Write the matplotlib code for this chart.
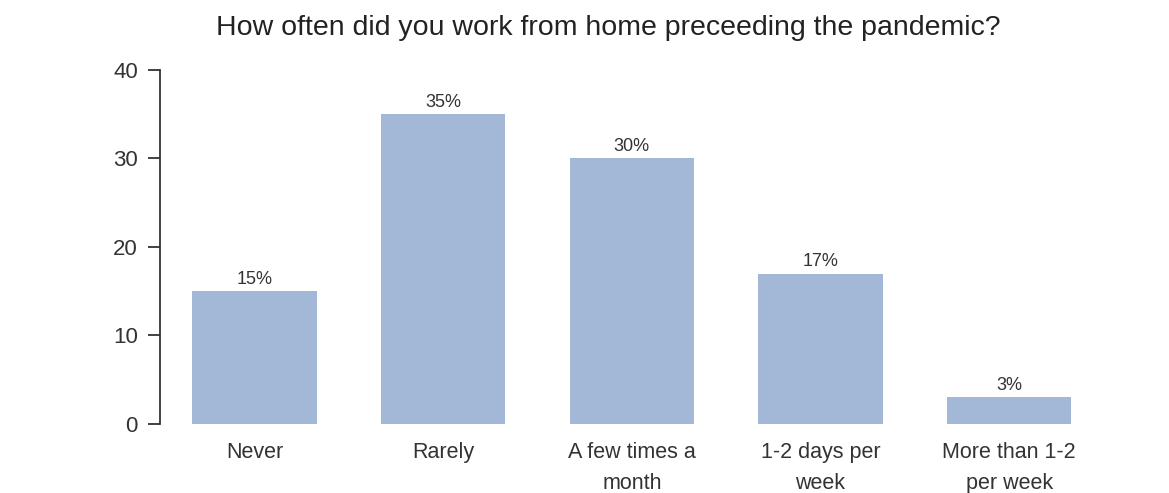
import matplotlib.pyplot as plt

categories = ["Never", "Rarely", "A few times a\nmonth", "1-2 days per\nweek", "More than 1-2\nper week"]
values = [15, 35, 30, 17, 3]
bar_labels = ["15%", "35%", "30%", "17%", "3%"]
yticks = [0, 10, 20, 30, 40]

plt.rcParams['font.family'] = ['Liberation Sans', 'DejaVu Sans']
text_color = '#333333'

fig = plt.figure(figsize=(11.69, 4.93), dpi=100)
ax = fig.add_axes([0.137, 0.14, 0.807, 0.718])

x = list(range(len(categories)))
bars = ax.bar(x, values, width=0.66, color='#a3b7d6')
for b, lab in zip(bars, bar_labels):
    ax.text(b.get_x() + b.get_width() / 2, b.get_height() + 0.4, lab,
            ha='center', va='bottom', fontsize=13, color=text_color)

ax.set_xlim(-0.5, 4.5)
ax.set_ylim(0, 40)
ax.set_yticks(yticks)
ax.set_xticks(x)
ax.set_xticklabels(categories, fontsize=15.5, color=text_color, linespacing=1.6)
ax.tick_params(axis='x', length=0, pad=13)
ax.tick_params(axis='y', length=9, width=1.3, color=text_color, labelsize=16,
               labelcolor=text_color, pad=7)

for side in ['top', 'right', 'bottom']:
    ax.spines[side].set_visible(False)
ax.spines['left'].set_color(text_color)
ax.spines['left'].set_linewidth(1.3)

fig.text(0.52, 0.943, "How often did you work from home preceeding the pandemic?",
         ha='center', va='center', fontsize=20.5, color='#222222')

fig.savefig('out.png', dpi=100)
